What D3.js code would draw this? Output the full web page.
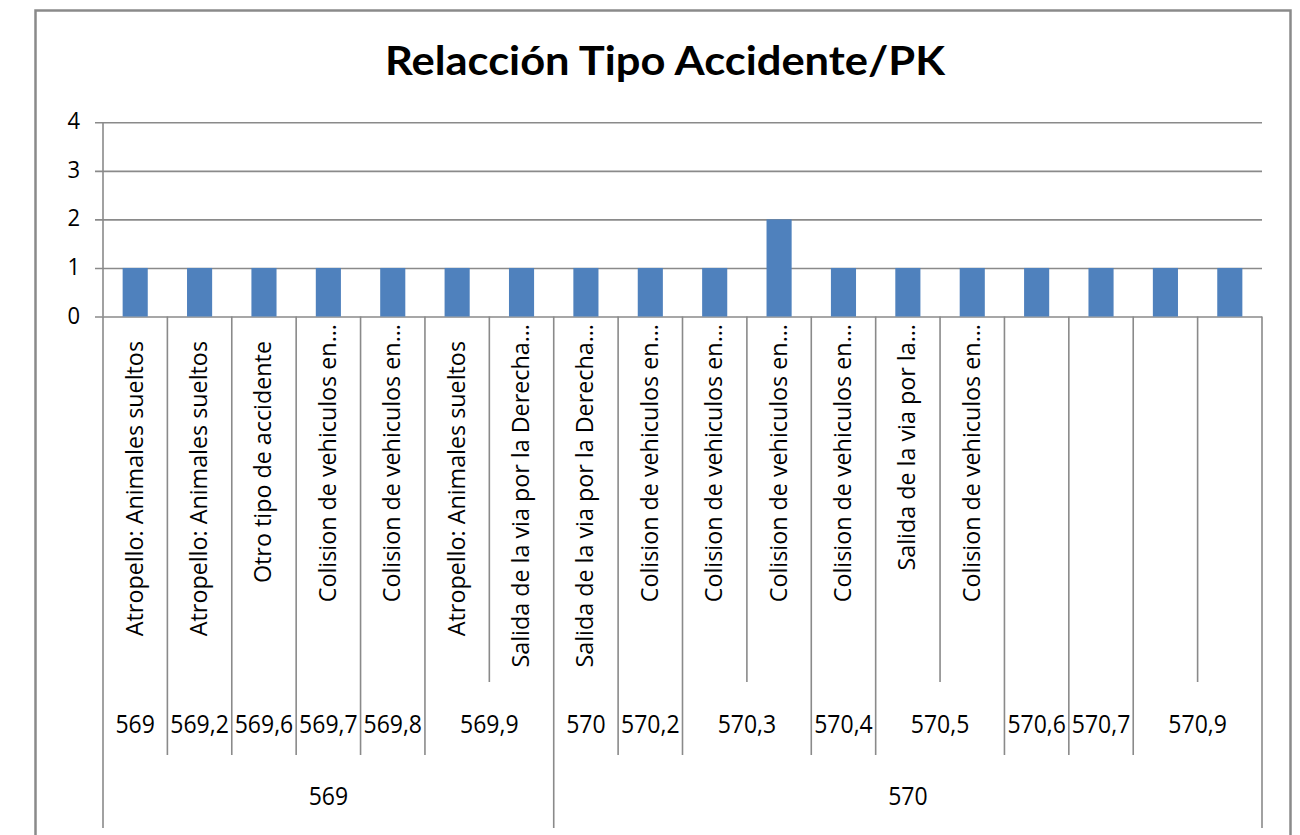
<!DOCTYPE html>
<html>
<head>
<meta charset="utf-8">
<script src="https://cdn.jsdelivr.net/npm/d3@7"></script>
<style>
  html, body { margin: 0; padding: 0; background: #ffffff; }
  svg { display: block; }
</style>
</head>
<body>
<svg id="chart" width="1300" height="835"></svg>
<script>
// ---- data ----
const title = "Relacción Tipo Accidente/PK";
const tipos = [
  "Atropello: Animales sueltos",
  "Atropello: Animales sueltos",
  "Otro tipo de accidente",
  "Colision de vehiculos en...",
  "Colision de vehiculos en...",
  "Atropello: Animales sueltos",
  "Salida de la via por la Derecha...",
  "Salida de la via por la Derecha...",
  "Colision de vehiculos en...",
  "Colision de vehiculos en...",
  "Colision de vehiculos en...",
  "Colision de vehiculos en...",
  "Salida de la via por la...",
  "Colision de vehiculos en...",
  "", "", "", ""
];
const pks = ["569","569,2","569,6","569,7","569,8","569,9","569,9","570","570,2",
             "570,3","570,3","570,4","570,5","570,5","570,6","570,7","570,9","570,9"];
const kms = ["569","569","569","569","569","569","569",
             "570","570","570","570","570","570","570","570","570","570","570"];
const values = [1,1,1,1,1,1,1,1,1,1,2,1,1,1,1,1,1,1];
const yTicks = [0,1,2,3,4];

// ---- layout ----
const svg = d3.select("#chart");
const plot = { left: 103, right: 1262, top: 122.3, bottom: 316.5 };
const gray = "#8a8a8a";
const barColor = "#4f81bd";
const labelFont = "'Open Sans', 'DejaVu Sans', sans-serif";

// chart border
svg.append("rect")
  .attr("x", 35.5).attr("y", 10.5)
  .attr("width", 1255).attr("height", 900)
  .attr("fill", "#fff").attr("stroke", gray).attr("stroke-width", 2.5);

// title
svg.append("text")
  .attr("x", 665).attr("y", 75)
  .attr("text-anchor", "middle")
  .attr("font-family", "Lato, 'Open Sans', sans-serif")
  .attr("font-weight", "bold")
  .attr("font-size", 40)
  .attr("textLength", 560)
  .attr("lengthAdjust", "spacingAndGlyphs")
  .attr("fill", "#000")
  .text(title);

const idx = d3.range(values.length);
const xCat = d3.scaleBand().domain(idx).range([plot.left, plot.right]).padding(0);
const xBar = d3.scaleBand().domain(idx).range([plot.left, plot.right])
  .paddingInner(0.61).paddingOuter(0.305);
const y = d3.scaleLinear().domain([0, 4]).range([plot.bottom, plot.top]);

// gridlines with tick marks
const yAxis = d3.axisLeft(y).tickValues(yTicks)
  .tickSize(-(plot.right - plot.left)).tickPadding(0).tickFormat("");
const gy = svg.append("g").attr("transform", `translate(${plot.left},0)`).call(yAxis);
gy.select(".domain").remove();
gy.selectAll(".tick line").attr("stroke", gray).attr("stroke-width", 1.6)
  .attr("x1", -8);

// y tick labels
svg.append("g").selectAll("text").data(yTicks).join("text")
  .attr("transform", d => `translate(80,${y(d) + 7}) scale(1,1.08)`)
  .attr("text-anchor", "end")
  .attr("font-family", labelFont).attr("font-size", 22)
  .attr("fill", "#000")
  .text(d => d);

// bars
svg.append("g").selectAll("rect").data(idx).join("rect")
  .attr("x", i => xBar(i))
  .attr("width", xBar.bandwidth())
  .attr("y", i => y(values[i]))
  .attr("height", i => y(0) - y(values[i]))
  .attr("fill", barColor);

// y axis line
svg.append("line")
  .attr("x1", plot.left).attr("x2", plot.left)
  .attr("y1", plot.top).attr("y2", plot.bottom)
  .attr("stroke", gray).attr("stroke-width", 1.6);

// category divider lines (multi-level axis)
const lvl1Bottom = 682, lvl2Bottom = 755, lvl3Bottom = 828;
const n = values.length;
const bounds = d3.range(n + 1).map(i => {
  const x = i < n ? xCat(i) : plot.right;
  let y2;
  if (i === 0 || i === n || kms[i] !== kms[i - 1]) y2 = lvl3Bottom;
  else if (pks[i] !== pks[i - 1]) y2 = lvl2Bottom;
  else y2 = lvl1Bottom;
  return { x, y2 };
});
svg.append("g").selectAll("line").data(bounds).join("line")
  .attr("x1", d => d.x).attr("x2", d => d.x)
  .attr("y1", plot.bottom).attr("y2", d => d.y2)
  .attr("stroke", gray).attr("stroke-width", 1.6);

// level 1: rotated type labels
svg.append("g").selectAll("text").data(idx.filter(i => tipos[i] !== "")).join("text")
  .attr("transform", i => {
    const cx = xCat(i) + xCat.bandwidth() / 2 + 7.5;
    const ty = tipos[i].endsWith("...") ? 324 : 341;
    return `translate(${cx},${ty}) rotate(-90)`;
  })
  .attr("text-anchor", "end")
  .attr("font-family", labelFont).attr("font-size", 23.3)
  .attr("fill", "#000")
  .text(i => tipos[i]);

// level 2: PK groups
function groups(arr) {
  const out = [];
  arr.forEach((v, i) => {
    if (out.length && out[out.length - 1].label === v) out[out.length - 1].end = i;
    else out.push({ label: v, start: i, end: i });
  });
  return out;
}
const pkGroups = groups(pks);
const kmGroups = groups(kms);
const groupCenter = g => (xCat(g.start) + xCat(g.end) + xCat.bandwidth()) / 2;

svg.append("g").selectAll("text").data(pkGroups).join("text")
  .attr("transform", g => `translate(${groupCenter(g)},733) scale(1,1.1)`)
  .attr("text-anchor", "middle")
  .attr("font-family", labelFont).attr("font-size", 23)
  .attr("fill", "#000")
  .text(g => g.label);

// level 3: km groups
svg.append("g").selectAll("text").data(kmGroups).join("text")
  .attr("transform", g => `translate(${groupCenter(g)},805) scale(1,1.1)`)
  .attr("text-anchor", "middle")
  .attr("font-family", labelFont).attr("font-size", 23)
  .attr("fill", "#000")
  .text(g => g.label);
</script>
</body>
</html>
